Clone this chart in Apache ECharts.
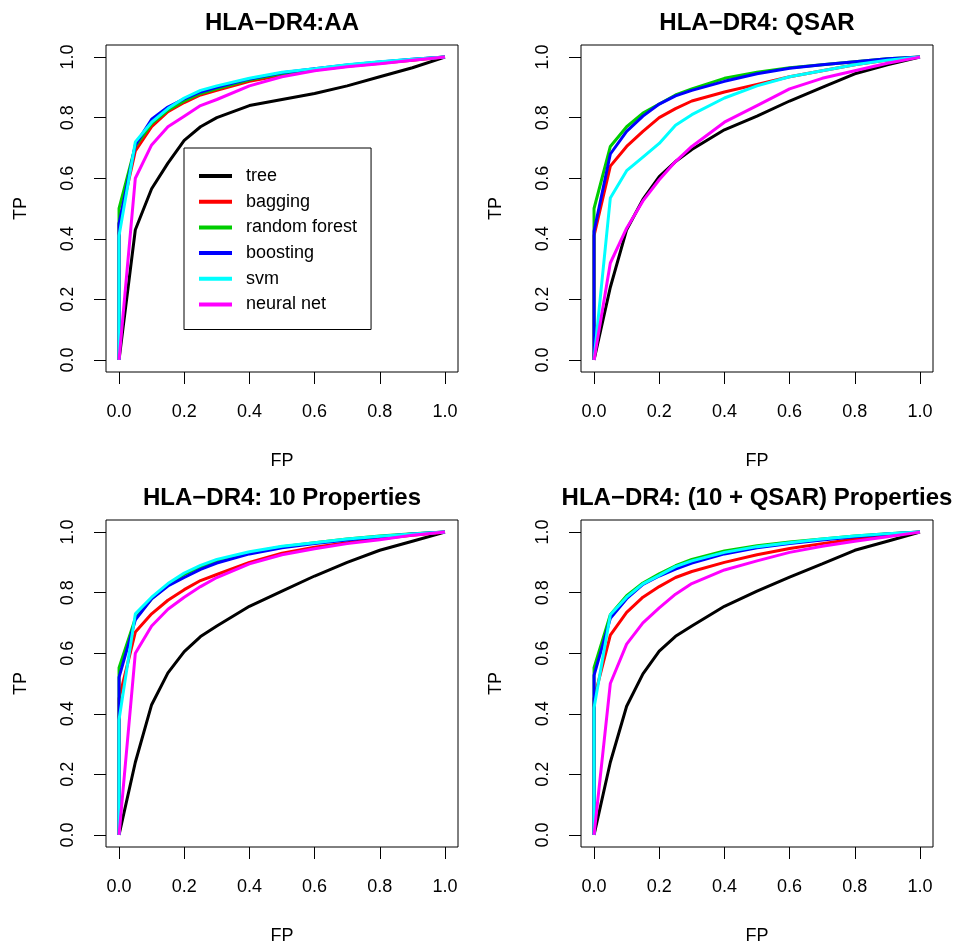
<!DOCTYPE html>
<html>
<head>
<meta charset="utf-8">
<script src="https://cdn.jsdelivr.net/npm/echarts@6/dist/echarts.min.js"></script>
<style>
html,body{margin:0;padding:0;background:#fff;}
#chart{width:963px;height:947px;}
</style>
</head>
<body>
<div id="chart"></div>
<script>
// ---- data ----
var methods = ['tree', 'bagging', 'random forest', 'boosting', 'svm', 'neural net'];
var colors = ['#000000', '#ff0000', '#00cd00', '#0000ff', '#00ffff', '#ff00ff'];
var panelTitles = ['HLA\u2212DR4:AA', 'HLA\u2212DR4: QSAR', 'HLA\u2212DR4: 10 Properties', 'HLA\u2212DR4: (10 + QSAR) Properties'];
var fp = [0, 0, 0.05, 0.1, 0.15, 0.2, 0.25, 0.3, 0.4, 0.5, 0.6, 0.7, 0.8, 0.9, 1.0];
var tickValues = [0, 0.2, 0.4, 0.6, 0.8, 1.0];

// Panel 1: HLA-DR4:AA
var p1_tree     = [0, null, 0.43, 0.565, 0.65, 0.725, 0.77, 0.80, 0.84, 0.86, 0.88, 0.905, 0.935, 0.965, 1.0];
var p1_bagging  = [0, 0.45, 0.69, 0.77, 0.82, 0.85, 0.875, 0.89, 0.92, 0.94, 0.957, 0.97, 0.98, 0.99, 1.0];
var p1_rf       = [0, 0.50, 0.705, 0.78, 0.825, 0.855, 0.88, 0.895, 0.925, 0.945, 0.96, 0.972, 0.982, 0.992, 1.0];
var p1_boosting = [0, 0.45, 0.71, 0.795, 0.835, 0.862, 0.885, 0.90, 0.928, 0.948, 0.962, 0.974, 0.984, 0.993, 1.0];
var p1_svm      = [0, 0.41, 0.72, 0.785, 0.83, 0.865, 0.89, 0.905, 0.93, 0.95, 0.962, 0.975, 0.985, 0.993, 1.0];
var p1_nn       = [0, null, 0.60, 0.71, 0.77, 0.805, 0.84, 0.86, 0.905, 0.935, 0.955, 0.968, 0.978, 0.99, 1.0];

// Panel 2: HLA-DR4: QSAR
var p2_tree     = [0, null, 0.24, 0.43, 0.53, 0.605, 0.655, 0.695, 0.76, 0.805, 0.855, 0.90, 0.945, 0.975, 1.0];
var p2_bagging  = [0, 0.41, 0.64, 0.705, 0.755, 0.80, 0.83, 0.855, 0.885, 0.91, 0.935, 0.955, 0.975, 0.99, 1.0];
var p2_rf       = [0, 0.50, 0.705, 0.77, 0.815, 0.845, 0.875, 0.895, 0.93, 0.95, 0.965, 0.975, 0.985, 0.995, 1.0];
var p2_boosting = [0, 0.425, 0.68, 0.755, 0.805, 0.845, 0.872, 0.89, 0.92, 0.945, 0.963, 0.975, 0.985, 0.995, 1.0];
var p2_svm      = [0, null, 0.535, 0.625, 0.67, 0.715, 0.775, 0.81, 0.865, 0.905, 0.935, 0.955, 0.975, 0.99, 1.0];
var p2_nn       = [0, null, 0.32, 0.435, 0.525, 0.595, 0.655, 0.705, 0.785, 0.84, 0.895, 0.93, 0.955, 0.98, 1.0];

// Panel 3: HLA-DR4: 10 Properties
var p3_tree     = [0, null, 0.24, 0.43, 0.535, 0.605, 0.655, 0.69, 0.755, 0.805, 0.855, 0.90, 0.94, 0.97, 1.0];
var p3_bagging  = [0, 0.45, 0.67, 0.73, 0.775, 0.81, 0.84, 0.86, 0.90, 0.93, 0.95, 0.965, 0.978, 0.99, 1.0];
var p3_rf       = [0, 0.552, 0.715, 0.78, 0.825, 0.86, 0.885, 0.905, 0.932, 0.952, 0.965, 0.977, 0.987, 0.995, 1.0];
var p3_boosting = [0, 0.52, 0.71, 0.78, 0.822, 0.85, 0.877, 0.898, 0.928, 0.948, 0.962, 0.974, 0.985, 0.994, 1.0];
var p3_svm      = [0, 0.38, 0.73, 0.785, 0.83, 0.865, 0.89, 0.91, 0.935, 0.953, 0.965, 0.977, 0.986, 0.994, 1.0];
var p3_nn       = [0, null, 0.60, 0.69, 0.745, 0.785, 0.82, 0.85, 0.895, 0.925, 0.945, 0.962, 0.975, 0.99, 1.0];

// Panel 4: HLA-DR4: (10 + QSAR) Properties
var p4_tree     = [0, null, 0.24, 0.425, 0.532, 0.607, 0.656, 0.69, 0.755, 0.805, 0.851, 0.895, 0.94, 0.97, 1.0];
var p4_bagging  = [0, 0.45, 0.66, 0.735, 0.785, 0.82, 0.85, 0.87, 0.90, 0.925, 0.946, 0.962, 0.977, 0.99, 1.0];
var p4_rf       = [0, 0.552, 0.727, 0.79, 0.832, 0.862, 0.889, 0.91, 0.938, 0.955, 0.967, 0.977, 0.987, 0.995, 1.0];
var p4_boosting = [0, 0.527, 0.715, 0.78, 0.827, 0.855, 0.878, 0.898, 0.928, 0.948, 0.962, 0.974, 0.985, 0.994, 1.0];
var p4_svm      = [0, 0.42, 0.727, 0.785, 0.829, 0.857, 0.886, 0.905, 0.933, 0.952, 0.965, 0.977, 0.987, 0.995, 1.0];
var p4_nn       = [0, null, 0.50, 0.63, 0.70, 0.75, 0.795, 0.83, 0.875, 0.905, 0.933, 0.953, 0.97, 0.985, 1.0];

var panels = [
  [p1_tree, p1_bagging, p1_rf, p1_boosting, p1_svm, p1_nn],
  [p2_tree, p2_bagging, p2_rf, p2_boosting, p2_svm, p2_nn],
  [p3_tree, p3_bagging, p3_rf, p3_boosting, p3_svm, p3_nn],
  [p4_tree, p4_bagging, p4_rf, p4_boosting, p4_svm, p4_nn]
];

// ---- layout ----
var FONT = '"Liberation Sans", Arial, Helvetica, sans-serif';
var gridPos = [
  {left: 106, top: 45, width: 352, height: 327},
  {left: 581, top: 45, width: 352, height: 327},
  {left: 106, top: 520, width: 352, height: 327},
  {left: 581, top: 520, width: 352, height: 327}
];
var titleTops = [11, 11, 486, 486];

var grids = [], xAxes = [], yAxes = [], titles = [], series = [];
function fmt(v) { return v.toFixed(1); }

gridPos.forEach(function (g, i) {
  grids.push({left: g.left, top: g.top, width: g.width, height: g.height,
    show: true, borderColor: '#000', borderWidth: 1, backgroundColor: 'transparent'});
  xAxes.push({
    type: 'value', gridIndex: i, min: -0.04, max: 1.04,
    name: 'FP', nameLocation: 'middle', nameGap: 80,
    nameTextStyle: {fontFamily: FONT, fontSize: 18, color: '#000'},
    axisLine: {show: false, onZero: false},
    axisTick: {show: true, inside: false, length: 12, customValues: tickValues, lineStyle: {color: '#000', width: 1}},
    axisLabel: {customValues: tickValues, formatter: fmt, margin: 31, fontFamily: FONT, fontSize: 18, color: '#000'},
    splitLine: {show: false}
  });
  yAxes.push({
    type: 'value', gridIndex: i, min: -0.04, max: 1.04,
    name: 'TP', nameLocation: 'middle', nameGap: 76, nameRotate: 90,
    nameTextStyle: {fontFamily: FONT, fontSize: 18, color: '#000'},
    axisLine: {show: false, onZero: false},
    axisTick: {show: true, inside: false, length: 12, customValues: tickValues, lineStyle: {color: '#000', width: 1}},
    axisLabel: {customValues: tickValues, formatter: fmt, rotate: 90, margin: 29, fontFamily: FONT, fontSize: 18, color: '#000'},
    splitLine: {show: false}
  });
  titles.push({
    text: panelTitles[i], left: g.left + g.width / 2, top: titleTops[i], textAlign: 'center', padding: 0,
    textStyle: {fontFamily: FONT, fontSize: 24, fontWeight: 'bold', color: '#000'}
  });
  panels[i].forEach(function (tp, k) {
    var data = fp.map(function (x, j) { return tp[j] === null ? [x, null] : [x, tp[j]]; });
    series.push({
      type: 'line', name: methods[k], xAxisIndex: i, yAxisIndex: i,
      data: data, connectNulls: true, symbol: 'none', smooth: false,
      lineStyle: {color: colors[k], width: 3}, itemStyle: {color: colors[k]},
      emphasis: {disabled: true}, z: 2 + k * 0.01
    });
  });
});

var chart = echarts.init(document.getElementById('chart'), null, {renderer: 'canvas'});
chart.setOption({
  animation: false,
  backgroundColor: '#fff',
  title: titles,
  grid: grids,
  xAxis: xAxes,
  yAxis: yAxes,
  legend: {
    data: methods.map(function (m) { return {name: m, icon: 'rect'}; }),
    orient: 'vertical', left: 184, top: 148,
    padding: [19, 14, 16, 15], itemGap: 7.7, itemWidth: 33, itemHeight: 4,
    borderColor: '#000', borderWidth: 1, backgroundColor: '#fff', borderRadius: 0,
    textStyle: {fontFamily: FONT, fontSize: 18, color: '#000', padding: [0, 0, 0, 9]},
    selectedMode: false
  },
  series: series
});
</script>
</body>
</html>
